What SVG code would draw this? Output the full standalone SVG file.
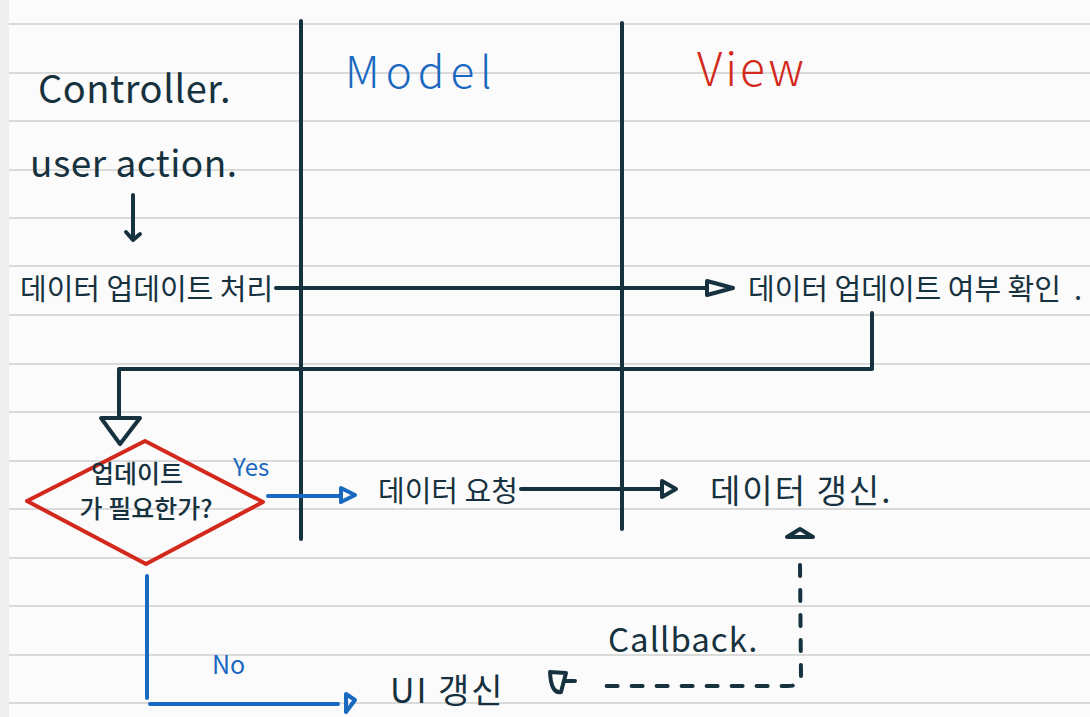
<svg xmlns="http://www.w3.org/2000/svg" width="1090" height="717" viewBox="0 0 1090 717">
<defs>
<style>
.rule{stroke:#dadada;stroke-width:2}
.dk{stroke:#17323f;fill:none;stroke-width:4;stroke-linecap:round;stroke-linejoin:round}
.bl{stroke:#1a68c0;fill:none;stroke-width:4;stroke-linecap:round;stroke-linejoin:round}
.t{font-family:"Noto Sans CJK KR","Noto Sans",sans-serif;fill:#17323f}
.tb{fill:#1a68c0}
.tr{fill:#d3291c}
</style>
</defs>
<rect width="1090" height="717" fill="#fbfbfb"/>
<rect width="9" height="717" fill="#efefef"/>
<g id="paper-lines">
<line class="rule" x1="9" y1="24" x2="1090" y2="24"/>
<line class="rule" x1="9" y1="73" x2="1090" y2="73"/>
<line class="rule" x1="9" y1="121" x2="1090" y2="121"/>
<line class="rule" x1="9" y1="170" x2="1090" y2="170"/>
<line class="rule" x1="9" y1="218" x2="1090" y2="218"/>
<line class="rule" x1="9" y1="266" x2="1090" y2="266"/>
<line class="rule" x1="9" y1="315" x2="1090" y2="315"/>
<line class="rule" x1="9" y1="364" x2="1090" y2="364"/>
<line class="rule" x1="9" y1="412" x2="1090" y2="412"/>
<line class="rule" x1="9" y1="461" x2="1090" y2="461"/>
<line class="rule" x1="9" y1="509" x2="1090" y2="509"/>
<line class="rule" x1="9" y1="558" x2="1090" y2="558"/>
<line class="rule" x1="9" y1="606" x2="1090" y2="606"/>
<line class="rule" x1="9" y1="655" x2="1090" y2="655"/>
<line class="rule" x1="9" y1="703" x2="1090" y2="703"/>
</g>
<g id="lanes">
<line class="dk" x1="301" y1="21" x2="301" y2="539"/>
<line class="dk" x1="622" y1="23" x2="622" y2="529"/>
</g>
<g id="headers">
<text class="t" x="38" y="103" font-size="38" letter-spacing="0.5">Controller.</text>
<text class="t tb" x="345" y="88" font-size="44" font-weight="300" letter-spacing="6">Model</text>
<text class="t tr" x="697" y="86" font-size="46" font-weight="300" letter-spacing="3">View</text>
</g>
<g id="connectors">
<path class="dk" d="M133,195 L133,240 M126,232 L133,240 L140,234"/>
<path class="dk" d="M276,288 L705,288"/>
<path class="dk" d="M707,281 L733,288 L707,295 Z" stroke-width="3"/>
<path class="dk" d="M872,313 L872,369 L119,369 L119,417"/>
<path class="dk" d="M101,418 L140,418 L120,444 Z" stroke-width="3"/>
<path class="bl" d="M268,496 L340,496"/>
<path class="bl" d="M341,488 L355,495 L341,502 Z" stroke-width="3"/>
<path class="dk" d="M521,489 L660,489"/>
<path class="dk" d="M662,481 L676,489 L662,497 Z" stroke-width="3"/>
<path class="dk" d="M787,537 L813,537 L800,529 Z" stroke-width="3"/>
<path class="dk" d="M800,565 L801,676 Q801,686 788,686 L595,686" stroke-width="2" stroke-dasharray="11,14"/>
<path class="dk" d="M550,672 L566,673 L561,692 Q551,694 550,672 M566,681 L575,681" stroke-width="3"/>
<path class="bl" d="M147,576 L147,698 M150,704 L338,704"/>
<path class="bl" d="M346,694 L355,700 L346,712 Z" stroke-width="3"/>
</g>
<g id="user-action">
<text class="t" x="30" y="177" font-size="37" letter-spacing="0.5">user action.</text>
</g>
<g id="update-process">
<text class="t" x="20" y="300" font-size="29">데이터 업데이트 처리</text>
</g>
<g id="check-update">
<text class="t" x="748" y="300" font-size="29">데이터 업데이트 여부 확인</text>
<text class="t" x="1074" y="300" font-size="29">.</text>
</g>
<g id="decision">
<path d="M27,501 L145,441 L263,502 L146,564 Z" fill="none" stroke="#d3291c" stroke-width="4" stroke-linejoin="round"/>
<text class="t" x="137" y="483" font-size="25" font-weight="500" text-anchor="middle">업데이트</text>
<text class="t" x="146" y="518" font-size="25" font-weight="500" text-anchor="middle">가 필요한가?</text>
</g>
<g id="yes-label"><text class="t tb" x="233" y="476" font-size="24">Yes</text></g>
<g id="no-label"><text class="t tb" x="212" y="674" font-size="25">No</text></g>
<g id="data-request"><text class="t" x="378" y="502" font-size="29">데이터 요청</text></g>
<g id="data-update"><text class="t" x="710" y="503" font-size="33" letter-spacing="2">데이터 갱신.</text></g>
<g id="ui-update"><text class="t" x="390" y="703" font-size="34" letter-spacing="2">UI 갱신</text></g>
<g id="callback-label"><text class="t" x="608" y="652" font-size="33" letter-spacing="1">Callback.</text></g>
</svg>
